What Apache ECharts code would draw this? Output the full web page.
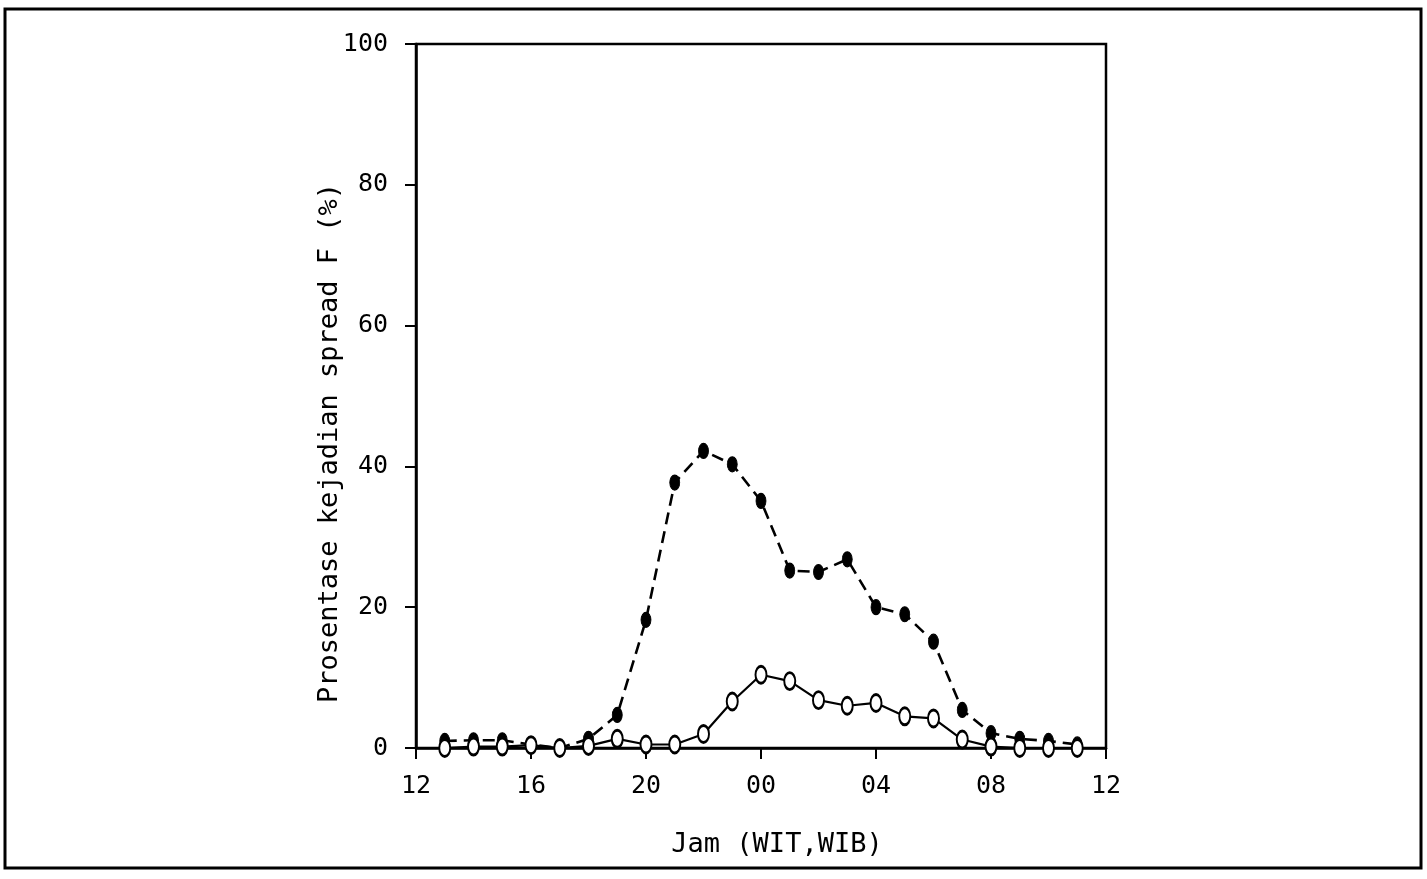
<!DOCTYPE html>
<html>
<head>
<meta charset="utf-8">
<script src="https://cdn.jsdelivr.net/npm/echarts@6/dist/echarts.min.js"></script>
<style>
html,body{margin:0;padding:0;background:#fff;}
#c{width:1427px;height:879px;}
</style>
</head>
<body>
<div id="c"></div>
<script>
// Hours (12 = noon, 24 = midnight, 36 = next noon)
const hours = [13,14,15,16,17,18,19,20,21,22,23,24,25,26,27,28,29,30,31,32,33,34,35];
// Filled markers, dashed line
const filledValues = [1.0,1.1,1.1,0.5,0.0,1.3,4.7,18.2,37.7,42.2,40.3,35.1,25.2,25.0,26.8,20.0,19.0,15.1,5.4,2.1,1.3,1.0,0.5];
// Open markers, solid line
const openValues = [0.0,0.2,0.2,0.4,0.0,0.3,1.3,0.5,0.5,2.0,6.6,10.4,9.5,6.8,6.0,6.4,4.5,4.2,1.2,0.2,0.0,0.0,0.0];
const xTickLabels = ['12','16','20','00','04','08','12'];
const yTicks = [0,20,40,60,80,100];
const xTitle = 'Jam (WIT,WIB)';
const yTitle = 'Prosentase kejadian spread F (%)';

const FONT = 'DejaVu Sans Mono';
const chart = echarts.init(document.getElementById('c'), null, {renderer:'canvas'});
const pair = (vals) => hours.map((h,i) => [h, vals[i]]);

chart.setOption({
  backgroundColor: '#ffffff',
  animation: false,
  grid: {left: 416, right: 321, top: 44, bottom: 131, show: true, borderColor: '#000', borderWidth: 2.5, backgroundColor: 'transparent'},
  xAxis: {
    type: 'value', min: 12, max: 36, interval: 4,
    name: xTitle, nameLocation: 'middle', nameGap: 83,
    nameTextStyle: {fontFamily: FONT, fontSize: 27, color: '#000', padding: [0, 0, 0, 32]},
    axisLine: {show: true, lineStyle: {color: '#000', width: 2.5}},
    axisTick: {show: true, inside: false, length: 11, lineStyle: {color: '#000', width: 2}},
    axisLabel: {color: '#000', fontFamily: FONT, fontSize: 25, margin: 26,
      formatter: (v) => xTickLabels[Math.round((v - 12) / 4)]},
    splitLine: {show: false}
  },
  yAxis: {
    type: 'value', min: 0, max: 100, interval: 20,
    axisLine: {show: true, lineStyle: {color: '#000', width: 2.5}},
    axisTick: {show: true, inside: false, length: 11, lineStyle: {color: '#000', width: 2}},
    axisLabel: {color: '#000', fontFamily: FONT, fontSize: 25, margin: 28,
      formatter: (v) => yTicks.includes(v) ? String(v) : ''},
    splitLine: {show: false}
  },
  series: [
    {
      type: 'line', data: pair(filledValues), z: 3,
      symbol: 'circle', symbolSize: [10, 15],
      itemStyle: {color: '#000', borderColor: '#000', borderWidth: 1},
      lineStyle: {color: '#000', width: 2.6, type: [12, 7]}
    },
    {
      type: 'line', data: pair(openValues), z: 4,
      symbol: 'circle', symbolSize: [11, 17],
      itemStyle: {color: '#fff', borderColor: '#000', borderWidth: 2.4},
      lineStyle: {color: '#000', width: 2.2}
    }
  ],
  graphic: [
    {type: 'rect', shape: {x: 5, y: 9, width: 1416, height: 859}, silent: true, z: -1,
     style: {fill: 'none', stroke: '#000', lineWidth: 3}},
    {type: 'text', x: 330, y: 443, rotation: Math.PI / 2, silent: true,
     style: {text: yTitle, font: '27px "DejaVu Sans Mono"', fill: '#000', align: 'center', verticalAlign: 'middle'}}
  ]
});
</script>
</body>
</html>
